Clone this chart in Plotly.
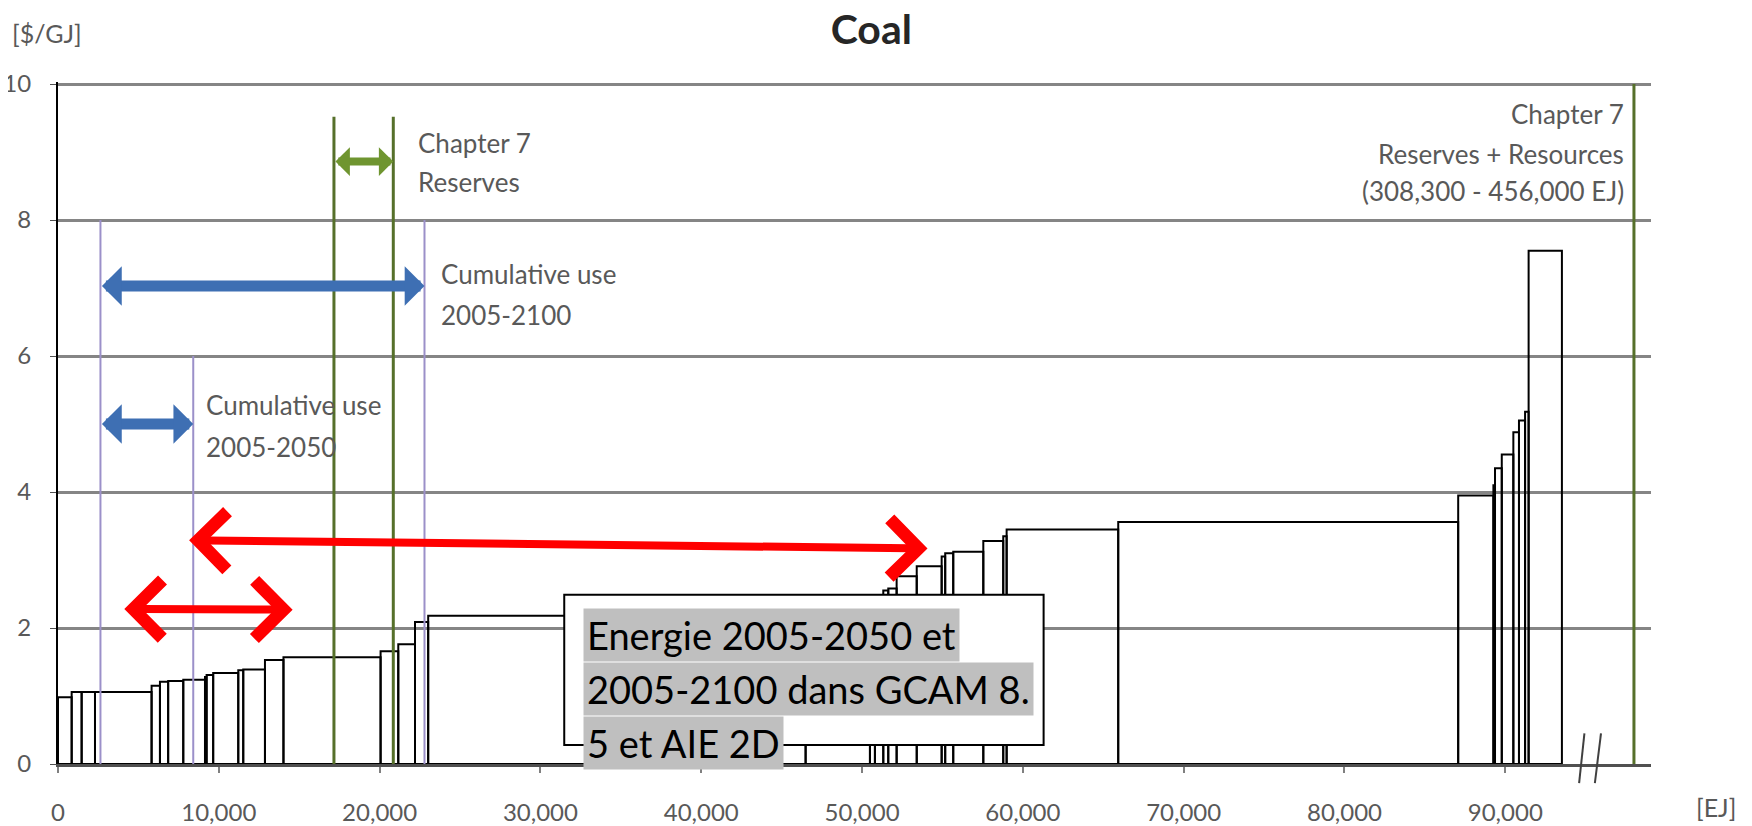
import plotly.graph_objects as go

# ---------------- data ----------------
# Coal supply curve: each block has a left edge [EJ] and a cost [$/GJ]
block_left = [0, 850, 1470, 2300, 5820, 6340, 6850, 7790, 9140, 9240,
              9650, 11210, 11520, 12870, 14020, 20060, 21160, 22200, 23020, 46490,
              50490, 50800, 51320, 51630, 52150, 53400, 54950, 55170, 55670, 57540,
              58780, 58990, 65930, 87070, 89260, 89360, 89780, 90500, 90850, 91230,
              91450]
block_end = 93520
block_cost = [0.98, 1.06, 1.06, 1.06, 1.15, 1.21, 1.22, 1.24, 1.28, 1.31,
              1.34, 1.38, 1.39, 1.53, 1.57, 1.66, 1.76, 2.09, 2.18, 2.30,
              2.40, 2.45, 2.55, 2.58, 2.76, 2.91, 3.05, 3.10, 3.12, 3.28,
              3.35, 3.45, 3.56, 3.95, 4.10, 4.35, 4.55, 4.88, 5.05, 5.18,
              7.55]

x_ticks = [0, 10000, 20000, 30000, 40000, 50000, 60000, 70000, 80000, 90000]
y_ticks = [0, 2, 4, 6, 8, 10]

# reference markers [EJ]
cum_use_start = 2640
cum_use_2050 = 8410
cum_use_2100 = 22790
reserves_low = 17160
reserves_high = 20850
resources_marker = 98000

X_MAX = 99060
Y_MAX = 10.03

GRAY_TXT = "#595959"
FONT = "Lato, 'Open Sans', sans-serif"

# ---------------- figure ----------------
block_right = block_left[1:] + [block_end]
block_width = [r - l for l, r in zip(block_left, block_right)]

fig = go.Figure()
fig.add_trace(go.Bar(
    x=block_left, y=block_cost, width=block_width, offset=0,
    marker=dict(color="rgba(0,0,0,0)", line=dict(color="black", width=2)),
    hoverinfo="skip", showlegend=False,
))

# vertical reference lines
for xv, top in [(cum_use_start, 8), (cum_use_2050, 6), (cum_use_2100, 8)]:
    fig.add_shape(type="line", x0=xv, x1=xv, y0=0, y1=top, xref="x", yref="y",
                  line=dict(color="#9B90C9", width=2), layer="above")
for xv in [reserves_low, reserves_high]:
    fig.add_shape(type="line", x0=xv, x1=xv, y0=0, y1=9.52, xref="x", yref="y",
                  line=dict(color="#56702A", width=3), layer="above")
fig.add_shape(type="line", x0=resources_marker, x1=resources_marker, y0=0, y1=10,
              xref="x", yref="y", line=dict(color="#56702A", width=3), layer="above")


def double_arrow(x0, y0, x1, y1, color, width, size, head):
    fig.add_annotation(x=x1, y=y1, ax=x0, ay=y0, xref="x", yref="y",
                       axref="x", ayref="y", text="", showarrow=True,
                       arrowhead=head, startarrowhead=head, arrowside="end+start",
                       arrowsize=size, startarrowsize=size, arrowwidth=width,
                       arrowcolor=color)


double_arrow(cum_use_start, 7.03, cum_use_2100, 7.03, "#3E6FB3", 11, 0.6, 1)
double_arrow(cum_use_start, 5.0, cum_use_2050, 5.0, "#3E6FB3", 11, 0.6, 1)
double_arrow(reserves_low, 8.86, reserves_high, 8.86, "#6F9530", 8, 0.6, 1)
double_arrow(8060, 3.29, 54070, 3.17, "#FF0000", 8, 1.4, 4)
double_arrow(4030, 2.28, 14590, 2.27, "#FF0000", 8, 1.4, 4)

# gray labels (one annotation per line)
labels = [
    ("Chapter 7", 22240, 9.13, "left"),
    ("Reserves", 22240, 8.56, "left"),
    ("Cumulative use", 23700, 7.20, "left"),
    ("2005-2100", 23700, 6.61, "left"),
    ("Cumulative use", 9100, 5.28, "left"),
    ("2005-2050", 9100, 4.66, "left"),
    ("Chapter 7", 97500, 9.56, "right"),
    ("Reserves + Resources", 97500, 8.97, "right"),
    ("(308,300 - 456,000 EJ)", 97500, 8.43, "right"),
]
for txt, xv, yv, anc in labels:
    fig.add_annotation(x=xv, y=yv, xref="x", yref="y", text=txt, showarrow=False,
                       xanchor=anc, yanchor="middle",
                       font=dict(family=FONT, size=26, color=GRAY_TXT))

# text box
fig.add_shape(type="rect", x0=31480, x1=61290, y0=0.28, y1=2.49, xref="x", yref="y",
              fillcolor="white", line=dict(color="black", width=2), layer="above")
box_lines = [("Energie 2005-2050 et", 1.89), ("2005-2100 dans GCAM 8.", 1.10),
             ("5 et AIE 2D", 0.31)]
for txt, yv in box_lines:
    fig.add_annotation(x=32660, y=yv, xref="x", yref="y", text=txt, showarrow=False,
                       xanchor="left", yanchor="middle", bgcolor="#BFBFBF", borderpad=3,
                       font=dict(family=FONT, size=38, color="black"))

# axis break marks
for xa, xb in [(94590, 94920), (95570, 95950)]:
    fig.add_shape(type="line", xref="paper", yref="paper",
                  x0=xa / X_MAX, x1=xb / X_MAX, y0=-0.28 / Y_MAX, y1=0.45 / Y_MAX,
                  line=dict(color="#404040", width=2))

# unit labels
fig.add_annotation(x=-0.03, y=1.072, xref="paper", yref="paper", text="[$/GJ]",
                   showarrow=False, xanchor="left", yanchor="middle",
                   font=dict(family=FONT, size=25, color=GRAY_TXT))
fig.add_annotation(x=1.041, y=-0.063, xref="paper", yref="paper", text="[EJ]",
                   showarrow=False, xanchor="center", yanchor="middle",
                   font=dict(family=FONT, size=25, color=GRAY_TXT))

# the page body adds an 8px margin, so the figure is sized/placed to compensate
fig.update_layout(
    width=1744, height=818,
    margin=dict(l=50, r=101, t=74, b=62),
    paper_bgcolor="white", plot_bgcolor="white",
    showlegend=False,
    title=dict(text="<b>Coal</b>", x=0.495, y=0.973, xanchor="center", yanchor="middle",
               font=dict(family=FONT, size=41, color="#262626")),
    xaxis=dict(range=[0, X_MAX], tickvals=x_ticks, tickformat=",", showgrid=False,
               zeroline=False, showline=True, linecolor="#505050", linewidth=2.5,
               ticks="outside", ticklen=6, tickcolor="#808080", tickwidth=1.5,
               ticklabelstandoff=19, automargin=False,
               tickfont=dict(family=FONT, size=24, color=GRAY_TXT)),
    yaxis=dict(range=[0, Y_MAX], tickvals=y_ticks, showgrid=True, gridcolor="#858585",
               gridwidth=2.5, zeroline=False, showline=True, linecolor="black",
               linewidth=2, ticks="outside", ticklen=6, tickcolor="#505050",
               ticklabelstandoff=14, automargin=False,
               tickfont=dict(family=FONT, size=24, color=GRAY_TXT)),
)

fig.write_html("out.html", config={"displayModeBar": False})
